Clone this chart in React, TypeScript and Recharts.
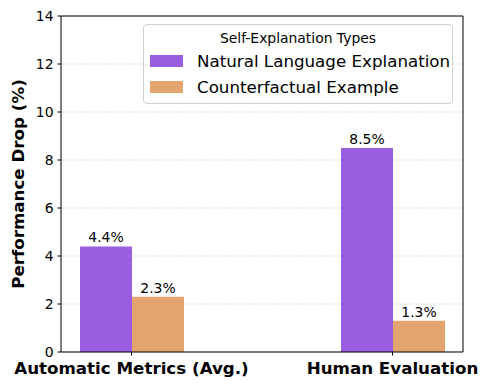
import React from 'react';
import { BarChart, Bar, XAxis, YAxis, CartesianGrid, LabelList } from 'recharts';

const categories = ['Automatic Metrics (Avg.)', 'Human Evaluation'];
const naturalLanguage = [4.4, 8.5];
const counterfactual = [2.3, 1.3];
const yTicks = [0, 2, 4, 6, 8, 10, 12, 14];

const seriesNames = ['Natural Language Explanation', 'Counterfactual Example'];
const PURPLE = '#9b5de0';
const ORANGE = '#e4a470';
const FONT = '"DejaVu Sans", sans-serif';

const data = categories.map((c, i) => ({
  category: c,
  nle: naturalLanguage[i],
  cf: counterfactual[i],
}));

const YLabel = (props: any) => {
  const vb = props.viewBox || {};
  const cy = vb.y + vb.height / 2;
  return (
    <text
      x={18}
      y={cy}
      transform={`rotate(-90, 18, ${cy})`}
      textAnchor="middle"
      dominantBaseline="central"
      style={{ fontFamily: FONT, fontSize: 16.7, fontWeight: 'bold', fill: '#000' }}
    >
      Performance Drop (%)
    </text>
  );
};

const LegendBox = () => (
  <div
    style={{
      position: 'absolute',
      left: 143,
      top: 24,
      width: 310,
      height: 80,
      border: '1px solid #d0d0d0',
      borderRadius: 4,
      background: 'rgba(255,255,255,0.8)',
      fontFamily: FONT,
      color: '#000',
      boxSizing: 'border-box',
    }}
  >
    <div style={{ textAlign: 'center', fontSize: 13.9, marginTop: 3, lineHeight: '20px' }}>
      Self-Explanation Types
    </div>
    {seriesNames.map((name, i) => (
      <div key={name} style={{ display: 'flex', alignItems: 'center', height: 26, marginLeft: 6 }}>
        <span
          style={{
            display: 'inline-block',
            width: 33,
            height: 12,
            background: i === 0 ? PURPLE : ORANGE,
            marginRight: 14,
          }}
        />
        <span style={{ fontSize: 16.7 }}>{name}</span>
      </div>
    ))}
  </div>
);

const App: React.FC = () => {
  return (
    <div style={{ position: 'absolute', left: 0, top: 0, width: 487, height: 390, background: '#fff' }}>
      <BarChart
        width={487}
        height={390}
        data={data}
        barGap={0}
        margin={{ top: 15, right: 23, left: 0, bottom: 0 }}
      >
        <CartesianGrid vertical={false} stroke="#e2e2e2" strokeDasharray="4 2" />
        <XAxis
          dataKey="category"
          height={38}
          padding={{ left: -60, right: -60 }}
          tickSize={3.5}
          tickMargin={7}
          axisLine={{ stroke: '#000', strokeWidth: 1 }}
          tickLine={{ stroke: '#000' }}
          tick={{ fill: '#000', fontSize: 16.7, fontWeight: 'bold', fontFamily: FONT }}
        />
        <XAxis
          xAxisId="top"
          dataKey="category"
          orientation="top"
          height={1}
          tick={false}
          tickLine={false}
          axisLine={{ stroke: '#000', strokeWidth: 1 }}
        />
        <YAxis
          domain={[0, 14]}
          ticks={yTicks}
          width={61}
          tickSize={3.5}
          tickMargin={4}
          interval={0}
          axisLine={{ stroke: '#000', strokeWidth: 1 }}
          tickLine={{ stroke: '#000' }}
          tick={{ fill: '#000', fontSize: 13.9, fontFamily: FONT }}
          label={<YLabel />}
        />
        <YAxis
          yAxisId="right"
          orientation="right"
          width={1}
          domain={[0, 14]}
          tick={false}
          tickLine={false}
          axisLine={{ stroke: '#000', strokeWidth: 1 }}
        />
        <Bar dataKey="nle" name={seriesNames[0]} fill={PURPLE} barSize={52} isAnimationActive={false}>
          <LabelList
            dataKey="nle"
            position="top"
            offset={4}
            formatter={(v: any) => `${v}%`}
            style={{ fill: '#000', fontSize: 13.9, fontFamily: FONT }}
          />
        </Bar>
        <Bar dataKey="cf" name={seriesNames[1]} fill={ORANGE} barSize={52} isAnimationActive={false}>
          <LabelList
            dataKey="cf"
            position="top"
            offset={4}
            formatter={(v: any) => `${v}%`}
            style={{ fill: '#000', fontSize: 13.9, fontFamily: FONT }}
          />
        </Bar>
      </BarChart>
      <LegendBox />
    </div>
  );
};

export default App;
